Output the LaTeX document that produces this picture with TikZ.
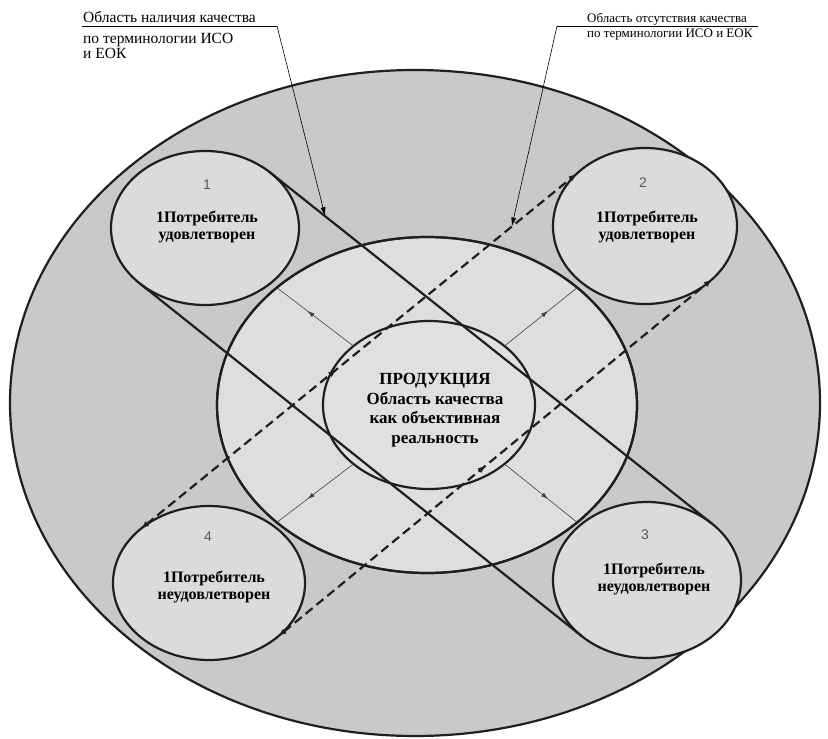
\documentclass[tikz,border=0pt]{standalone}
\usepackage{fontspec}
\setmainfont{Liberation Serif}
\newfontfamily\numfont{Liberation Sans}
\usetikzlibrary{shapes.geometric,calc,arrows.meta,decorations.markings}

\definecolor{outerfill}{gray}{0.79}
\definecolor{midfill}{gray}{0.87}
\definecolor{roundfill}{gray}{0.86}
\definecolor{corefill}{gray}{0.88}
\definecolor{inkline}{gray}{0.12}

\begin{document}
\begin{tikzpicture}[x=1pt,y=-1pt,
  outline/.style={draw=inkline,line width=2.2pt},
  oval/.style={ellipse,inner sep=0pt,outer sep=0pt,outline},
  bandline/.style={draw=inkline,line width=2.2pt},
  dashband/.style={draw=inkline,line width=2.2pt,dash pattern=on 9pt off 5pt,
    arrows={Latex[length=9pt,width=6pt]-Latex[length=9pt,width=6pt]}},
  midmark/.style={postaction={decorate},decoration={markings,
    mark=at position #1 with {\arrow{Latex[length=9pt,width=6pt]}}}},
  smallmark/.style={postaction={decorate},decoration={markings,
    mark=at position #1 with {\arrow{Latex[length=7pt,width=4.5pt]}}}},
  radial/.style={draw=black!75,line width=0.6pt},
  leader/.style={draw=black,line width=0.6pt,-{Latex[length=9pt,width=5pt]}},
  note/.style={inner sep=0pt,anchor=base west},
  inside/.style={inner sep=0pt,align=center,font=\bfseries\fontsize{16}{16.5}\selectfont},
  numlabel/.style={inner sep=0pt,text=black!65,font=\numfont\fontsize{14}{14}\selectfont}
]
\useasboundingbox (0,0) rectangle (828,739);

% outer field, middle zone and the four consumer ovals
\node[oval,fill=outerfill,minimum width=810pt,minimum height=666pt] (outer) at (415,403) {};
\node[oval,fill=midfill,minimum width=420pt,minimum height=336pt] (mid) at (427,405) {};
\node[oval,fill=roundfill,minimum width=188pt,minimum height=154pt] (c1) at (205,228) {};
\node[oval,fill=roundfill,minimum width=184pt,minimum height=156pt] (c2) at (645,226) {};
\node[oval,fill=roundfill,minimum width=188pt,minimum height=156pt] (c3) at (647,580) {};
\node[oval,fill=roundfill,minimum width=192pt,minimum height=154pt] (c4) at (209,583) {};
\draw[outline] (mid.center) ellipse [x radius=210, y radius=168];
\node[oval,fill=corefill,minimum width=212pt,minimum height=168pt] (core) at (429,405) {};

% radial arrows from the core to the middle zone
\draw[radial,smallmark=0.6] (core.142) -- (mid.142);
\draw[radial,smallmark=0.6] (core.38) -- (mid.38);
\draw[radial,smallmark=0.6] (core.218) -- (mid.218);
\draw[radial,smallmark=0.6] (core.322) -- (mid.322);

% solid band joining ovals 1 and 3
\draw[bandline] (c1.41) -- (c3.41);
\draw[bandline] (c1.221) -- (c3.221);

% dashed band joining ovals 4 and 2
\draw[dashband,midmark=0.45] (c4.142) -- (c2.142);
\draw[dashband,midmark=0.48] (c4.322) -- (c2.322);

% texts inside the ovals
\node[numlabel] (n1) at (207,185) {1};
\node[numlabel] (n2) at (643,183) {2};
\node[numlabel] (n3) at (645,535) {3};
\node[numlabel] (n4) at (208,537) {4};
\node[inside] (t1) at (207,227) {1Потребитель\\удовлетворен};
\node[inside] (t2) at (647,227) {1Потребитель\\удовлетворен};
\node[inside] (t3) at (654,579) {1Потребитель\\неудовлетворен};
\node[inside] (t4) at (214,587) {1Потребитель\\неудовлетворен};
\node[inner sep=0pt,align=center,font=\bfseries\fontsize{17}{19.5}\selectfont] (ctext) at (435,410)
  {ПРОДУКЦИЯ\\Область качества\\как объективная\\реальность};

% annotation on the left, with its leader
\node[note,font=\fontsize{15.5}{17}\selectfont] (qa1) at (83,22) {Область наличия качества};
\node[note,font=\fontsize{15.5}{17}\selectfont] (qa2) at (83,43) {по терминологии ИСО};
\node[note,font=\fontsize{15.5}{17}\selectfont] (qa3) at (83,58) {и ЕОК};
\coordinate (qaL) at (82,26);
\coordinate (qaR) at (277,26);
\draw[line width=0.8pt] (qaL) -- (qaR);
\coordinate (qaT) at ($(c1.41)!0.126!(c3.41)$);
\draw[leader] (qaR) -- (qaT);

% annotation on the right, with its leader
\node[note,font=\fontsize{13}{13}\selectfont] (qb1) at (587,22) {Область отсутствия качества};
\node[note,font=\fontsize{13}{13}\selectfont] (qb2) at (587,37) {по терминологии ИСО и ЕОК};
\coordinate (qbL) at (557,26);
\coordinate (qbR) at (758,26);
\draw[line width=0.8pt] (qbL) -- (qbR);
\coordinate (qbT) at ($(c4.142)!0.85!(c2.142)$);
\draw[leader] (qbL) -- (qbT);
\end{tikzpicture}
\end{document}
